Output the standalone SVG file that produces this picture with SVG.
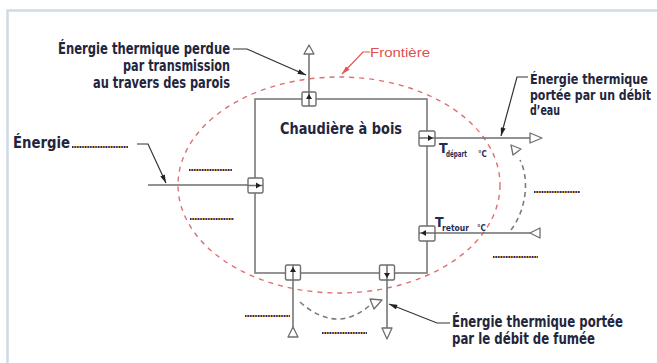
<svg xmlns="http://www.w3.org/2000/svg" width="657" height="363" viewBox="0 0 657 363">
<defs>
<style>
.frame{fill:none;stroke:#cddbe4;stroke-width:2.5}
.box{fill:none;stroke:#7a7a7a;stroke-width:1.6}
.flow{fill:none;stroke:#6e6e6e;stroke-width:1.5}
.sq{fill:#fff;stroke:#6e6e6e;stroke-width:1.4}
.tri{fill:#fff;stroke:#6e6e6e;stroke-width:1.3;stroke-linejoin:round}
.ia{fill:#222}
.lead{fill:none;stroke:#333;stroke-width:1.2}
.rlead{fill:none;stroke:#e05555;stroke-width:1.2}
.front{fill:none;stroke:#e07070;stroke-width:1.4;stroke-dasharray:5 5}
.gdash{fill:none;stroke:#7a7a7a;stroke-width:1.6;stroke-dasharray:5 4}
.lbl{font-family:"Liberation Sans Narrow","DejaVu Sans Condensed","Liberation Sans",sans-serif;font-weight:bold;font-size:15px;fill:#23253d}
.lbs{font-size:13.5px}
.rt{font-family:"Liberation Sans","DejaVu Sans",sans-serif;font-size:13px;fill:#e05050}
.tt{font-family:"Liberation Sans Narrow","DejaVu Sans Condensed","Liberation Sans",sans-serif;font-weight:bold;fill:#1f2a55}
.blank1{stroke:#e9a23b;stroke-width:2}
.blank2{stroke:#1f2a6a;stroke-width:2;stroke-dasharray:1.3 1.3}
</style>
<marker id="ah" viewBox="0 0 10 6" refX="10" refY="3" markerWidth="9" markerHeight="5" markerUnits="userSpaceOnUse" orient="auto"><path d="M0,0 L10,3 L0,6 z" fill="#222"/></marker>
<marker id="rah" viewBox="0 0 10 6" refX="10" refY="3" markerWidth="9" markerHeight="5" markerUnits="userSpaceOnUse" orient="auto"><path d="M0,0 L10,3 L0,6 z" fill="#e05555"/></marker>
</defs>

<path class="frame" d="M7.5,363 V10.5 H657"/>

<!-- boundary -->
<g id="frontiere">
<ellipse class="front" cx="339" cy="185" rx="161" ry="108"/>
<path class="rlead" d="M370,52 H363 L342,74" marker-end="url(#rah)"/>
<text class="rt" x="370" y="57" textLength="60" lengthAdjust="spacingAndGlyphs">Frontière</text>
</g>

<!-- connectors -->
<g id="connectors">
<line class="flow" x1="309" y1="54" x2="309" y2="99"/>
<line class="flow" x1="148" y1="185" x2="255" y2="185"/>
<line class="flow" x1="427" y1="138" x2="530" y2="138"/>
<line class="flow" x1="427" y1="233" x2="530" y2="233"/>
<line class="flow" x1="293" y1="273" x2="293" y2="327"/>
<line class="flow" x1="387" y1="273" x2="387" y2="328"/>
<path class="gdash" d="M511,230 C526,210 530,180 520,160"/>
<path class="gdash" d="M300,302 Q336,334 369,306"/>
<polygon class="tri" points="511,145 513,155 521,149"/>
<polygon class="tri" points="370,299 382,300 374,309"/>
<polygon class="tri" points="309,45 314,54 304,54"/>
<polygon class="tri" points="530,133 542,138 530,143"/>
<polygon class="tri" points="540,228 530,233 540,238"/>
<polygon class="tri" points="293,327 298,337 288,337"/>
<polygon class="tri" points="382,328 392,328 387,339"/>
<path class="lead" d="M233,49 H247 L306,75" marker-end="url(#ah)"/>
<path class="lead" d="M528,77 H517 L501,136" marker-end="url(#ah)"/>
<path class="lead" d="M137,144 H148 L166,183" marker-end="url(#ah)"/>
<path class="lead" d="M450,323 H437 L389,304" marker-end="url(#ah)"/>
</g>

<g id="chaudiere">
<rect class="box" x="255" y="99" width="172" height="174"/>
<text class="lbl" x="280" y="134" textLength="122" lengthAdjust="spacingAndGlyphs">Chaudière à bois</text>
</g>

<g id="port-transmission">
<rect class="sq" x="302" y="92" width="14" height="14" rx="1.5"/>
<line class="flow" x1="309" y1="92" x2="309" y2="106"/>
<polygon class="ia" points="309,94 312,99 306,99"/>
</g>
<g id="port-energie">
<rect class="sq" x="248" y="178" width="15" height="15" rx="1.5"/>
<line class="flow" x1="248" y1="185.5" x2="263" y2="185.5"/>
<polygon class="ia" points="261,185.5 256,182.5 256,188.5"/>
</g>
<g id="port-depart">
<rect class="sq" x="419" y="131" width="16" height="15" rx="1.5"/>
<line class="flow" x1="419" y1="138" x2="435" y2="138"/>
<polygon class="ia" points="433,138 428,135 428,141"/>
</g>
<g id="port-retour">
<rect class="sq" x="419" y="226" width="16" height="15" rx="1.5"/>
<line class="flow" x1="419" y1="233" x2="435" y2="233"/>
<polygon class="ia" points="421,233 426,230 426,236"/>
</g>
<g id="port-air">
<rect class="sq" x="285.5" y="265" width="15" height="15" rx="1.5"/>
<line class="flow" x1="293" y1="265" x2="293" y2="280"/>
<polygon class="ia" points="293,267 296,272 290,272"/>
</g>
<g id="port-fumee">
<rect class="sq" x="379.5" y="265" width="15" height="15" rx="1.5"/>
<line class="flow" x1="387" y1="265" x2="387" y2="280"/>
<polygon class="ia" points="387,278 384,273 390,273"/>
</g>

<g id="label-transmission">
<text class="lbl" x="58" y="54" textLength="172" lengthAdjust="spacingAndGlyphs">Énergie thermique perdue</text>
<text class="lbl" x="123" y="71" textLength="107" lengthAdjust="spacingAndGlyphs">par transmission</text>
<text class="lbl" x="93" y="88" textLength="137" lengthAdjust="spacingAndGlyphs">au travers des parois</text>
</g>
<g id="label-eau">
<text class="lbl lbs" x="530" y="84" textLength="118" lengthAdjust="spacingAndGlyphs">Énergie thermique</text>
<text class="lbl lbs" x="530" y="99.5" textLength="121" lengthAdjust="spacingAndGlyphs">portée par un débit</text>
<text class="lbl lbs" x="530" y="115" textLength="30" lengthAdjust="spacingAndGlyphs">d’eau</text>
</g>
<g id="label-energie">
<text class="lbl" x="13" y="148" textLength="57" lengthAdjust="spacingAndGlyphs">Énergie</text>
</g>
<g id="label-fumee">
<text class="lbl" x="452" y="327" textLength="171" lengthAdjust="spacingAndGlyphs">Énergie thermique portée</text>
<text class="lbl" x="452" y="344" textLength="143" lengthAdjust="spacingAndGlyphs">par le débit de fumée</text>
</g>
<g id="label-temperatures">
<text class="tt" x="439" y="153" font-size="14">T</text>
<text class="tt" x="446" y="157" font-size="8" textLength="21" lengthAdjust="spacingAndGlyphs">départ</text>
<text class="tt" x="478" y="157" font-size="8">°C</text>
<text class="tt" x="435" y="227" font-size="14">T</text>
<text class="tt" x="442" y="231" font-size="8" textLength="27" lengthAdjust="spacingAndGlyphs">retour</text>
<text class="tt" x="477" y="231" font-size="8">°C</text>
</g>

<g id="blanks">
<line class="blank1" x1="72" y1="147" x2="128" y2="147"/><line class="blank2" x1="72" y1="147" x2="128" y2="147"/>
<line class="blank1" x1="189" y1="170" x2="232" y2="170"/><line class="blank2" x1="189" y1="170" x2="232" y2="170"/>
<line class="blank1" x1="190" y1="219" x2="234" y2="219"/><line class="blank2" x1="190" y1="219" x2="234" y2="219"/>
<line class="blank1" x1="534" y1="192" x2="580" y2="192"/><line class="blank2" x1="534" y1="192" x2="580" y2="192"/>
<line class="blank1" x1="493" y1="257" x2="538" y2="257"/><line class="blank2" x1="493" y1="257" x2="538" y2="257"/>
<line class="blank1" x1="245" y1="316" x2="290" y2="316"/><line class="blank2" x1="245" y1="316" x2="290" y2="316"/>
<line class="blank1" x1="322" y1="333" x2="367" y2="333"/><line class="blank2" x1="322" y1="333" x2="367" y2="333"/>
</g>
</svg>
